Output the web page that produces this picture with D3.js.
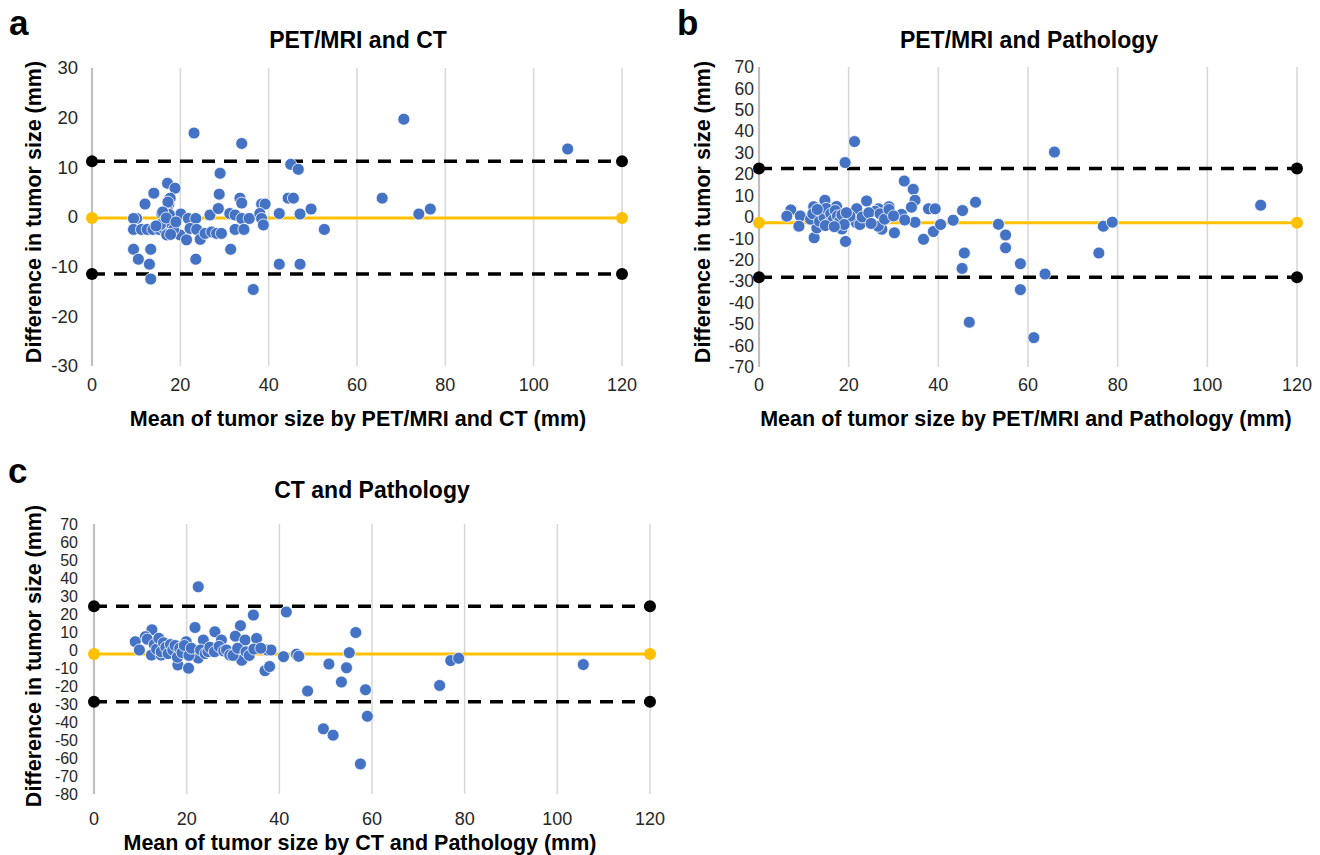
<!DOCTYPE html>
<meta charset="utf-8">
<style>
body { margin: 0; background: #fff; }
svg { font-family: "Liberation Sans", Arial, sans-serif; }
.tick-label { fill: #262626; }
.axis-title { font-size: 21.5px; font-weight: bold; fill: #000; }
.panel-title { font-size: 23px; font-weight: bold; fill: #000; }
.panel-letter { font-size: 35px; font-weight: bold; fill: #000; }
</style>
<body>
<div id="chart"></div>
<script src="https://cdn.jsdelivr.net/npm/d3@7"></script>
<script>

// x ticks shared by all three panels
var xTicks = [0, 20, 40, 60, 80, 100, 120];
var yTicksA = [-30, -20, -10, 0, 10, 20, 30];
var yTicksB = [-70, -60, -50, -40, -30, -20, -10, 0, 10, 20, 30, 40, 50, 60, 70];
var yTicksC = [-80, -70, -60, -50, -40, -30, -20, -10, 0, 10, 20, 30, 40, 50, 60, 70];

// mean difference and limits of agreement [lower, mean, upper]
var limitsA = [-11.5, -0.2, 11.2];
var limitsB = [-28.1, -2.7, 22.6];
var limitsC = [-28.7, -2.2, 24.3];

// [mean, difference] pairs
var pointsA = [
  [23.1,16.9],[33.9,14.8],[29,8.8],[17.1,6.8],[18.8,5.8],[14,4.8],[17.7,3.8],[28.8,4.6],[12,2.6],[17.4,2.6],
  [33.5,3.8],[33.9,2.8],[38.4,2.6],[39.2,2.6],[45,10.6],[46.7,9.6],[44.4,3.8],[45.6,3.8],[42.4,0.7],[47.1,0.6],
  [49.6,1.6],[52.6,-2.5],[42.4,-9.5],[47.1,-9.5],[70.6,19.7],[65.7,3.8],[74,0.6],[76.6,1.6],[107.7,13.7],
  [10.1,-0.3],[9.4,-0.3],[20.1,0.6],[15.8,0.7],[21.8,-0.3],[23.5,-0.3],[26.7,0.4],[28.6,1.7],[31.2,0.7],[32.4,0.4],
  [33.9,-0.3],[35.6,-0.3],[38,0.7],[38.4,-0.3],[38.8,-1.6],
  [9.4,-2.5],[11.2,-2.5],[12.5,-2.5],[13.8,-2.5],[15.2,-2.5],[16.4,-2.5],[17.5,-2.5],[16.9,-3.6],[19.9,-3.6],[21.4,-4.6],
  [22.2,-2.3],[23.7,-2.5],[24.5,-4.5],[25.6,-3.3],[27.1,-3],[28.2,-3.3],[29.3,-3.3],[32.4,-2.5],[34.4,-2.5],
  [9.4,-6.5],[10.5,-8.5],[13.3,-6.5],[13,-9.5],[13.3,-12.5],[23.5,-8.5],[31.4,-6.5],[36.5,-14.6],
  [17,1.5],[17.5,0.5],[16.5,-1],[18,-1.5],[17.2,3],[16,1],[18.5,-2.5],[15.5,-1.5],[17.8,-3.5],[16.8,-0.2],[14.5,-1.8],[19,-1]
];

var pointsB = [
  [21.3,35.2],[19.2,25.4],[32.4,16.8],[34.4,12.9],[34.8,7.8],[37.8,3.8],[39.3,3.8],[24,7.5],[14.7,7.8],[7.1,3.3],
  [6.2,0.4],[9.2,0.5],[8.9,-4.3],[12.2,4.8],[12.3,-9.7],[19.3,-11.4],[18.5,-5.6],[17.3,4.9],[21.8,3.9],[26.7,3.8],
  [29,4.8],[25.9,2.7],[31.8,1.2],[34,4.6],[34.8,-2.5],[30.2,-7.4],[36.7,-10.4],[38.9,-6.8],[40.5,-3.5],[32.5,-1.4],
  [27.4,-5.7],[26.6,-4.3],[28.5,-0.4],[24,-1.2],[21.7,-2.7],[20.3,0.4],[12.9,-5.1],
  [11.5,-1],[12,1.5],[13.5,-2],[14,2.5],[14.5,0],[15,4],[15.5,-3],[16,1.5],[16.5,-1.5],[17,3],[17.5,0.5],
  [18,-2],[18.5,1],[19,-3.5],[19.5,2],[14.8,-4],[16.8,-4.5],[13,3.5],[22.5,-3.5],[23,0],[24.5,2],[25,-3],
  [27,1.5],[28,-1],[29,3.5],[30,0.5],
  [43.3,-1.5],[45.4,3],[48.3,6.9],[45.8,-16.8],[45.3,-24],[46.9,-49.1],[53.4,-3.4],[55,-8.4],[55,-14.4],
  [58.3,-21.8],[58.3,-33.9],[63.8,-26.6],[61.3,-56.3],[65.9,30.3],[75.8,-16.8],[76.8,-4.3],[78.8,-2.4],[111.9,5.5]
];

var pointsC = [
  [22.5,35.1],[21.8,12.5],[34.4,19.4],[31.6,13.5],[26.1,10.1],[41.5,21.1],[12.5,11.2],[11.1,7.4],[8.9,4.6],[9.8,0],
  [23.6,5.5],[27.5,5.5],[30.5,7.7],[32.6,5.5],[35.1,6.4],[31.9,-5.7],[37.4,0],[38.2,0],[40.9,-3.7],[36.9,-11.5],
  [37.9,-9.2],[18.1,-8.3],[20.4,-10.1],[22.5,-4.5],[12.4,-2.8],[14.5,-2.8],[17.8,-1.8],[19.9,4.6],
  [11.5,6],[13,3],[13.5,0.5],[14,6.5],[14.5,-1],[15,4],[15.5,1.5],[16,-2],[16.5,3],[17,0],[17.5,2.5],
  [18,-4],[18.5,1],[19,-1.5],[19.5,2.5],[20.5,-3],[21,1],[23,0],[24,-2],[24.6,-0.9],[25,1.5],[26,-1],
  [27,2],[28,-0.5],[28.6,0],[29.3,-2.8],[30,-3],[31,1],[32.8,-1],[33.5,-3],[34.5,0.5],[36,1],
  [43.7,-2.3],[44.2,-3.5],[56.5,9.7],[55.1,-1.5],[50.7,-7.8],[54.5,-9.9],[53.4,-17.8],[46.1,-22.8],[58.6,-22.1],
  [59,-36.8],[49.5,-43.8],[51.6,-47.3],[57.5,-63.3],[74.6,-19.7],[77,-5.9],[78.7,-4.6],[105.6,-8.1]
];

var titles = ["PET/MRI and CT", "PET/MRI and Pathology", "CT and Pathology"];
var xTitles = [
  "Mean of tumor size by PET/MRI and CT (mm)",
  "Mean of tumor size by PET/MRI and Pathology (mm)",
  "Mean of tumor size by CT and Pathology (mm)"
];
var yTitle = "Difference in tumor size (mm)";
var letters = ["a", "b", "c"];

var width = 1320,
    height = 855;

var svg = d3.select("#chart").append("svg")
    .attr("width", width)
    .attr("height", height);

function drawPanel(p) {
    var x = d3.scaleLinear().domain([0, 120]).range([p.left, p.right]);
    var y = d3.scaleLinear().domain(p.yDomain).range([p.bottom, p.top]);
    var g = svg.append("g");

    // vertical gridlines
    g.selectAll("line.grid")
        .data(xTicks)
        .enter()
        .append("line")
        .attr("class", "grid")
        .attr("x1", function(d) { return x(d); })
        .attr("x2", function(d) { return x(d); })
        .attr("y1", p.top)
        .attr("y2", p.bottom)
        .style("stroke", function(d) { return d == 0 ? "#bfbfbf" : "#d9d9d9"; })
        .style("stroke-width", function(d) { return d == 0 ? 2.2 : 1.6; });

    // tick labels
    g.selectAll("text.xtick")
        .data(xTicks)
        .enter()
        .append("text")
        .attr("class", "tick-label")
        .style("font-size", "18px")
        .attr("x", function(d) { return x(d); })
        .attr("y", p.xTickY)
        .attr("text-anchor", "middle")
        .text(function(d) { return d; });

    g.selectAll("text.ytick")
        .data(p.yTicks)
        .enter()
        .append("text")
        .attr("class", "tick-label")
        .style("font-size", p.yTickSize + "px")
        .attr("x", p.yTickX)
        .attr("y", function(d) { return y(d) + p.yTickSize * 0.35; })
        .attr("text-anchor", "end")
        .text(function(d) { return d; });

    // limits of agreement (dashed) and mean (yellow)
    var lims = [
        {v: p.limits[0], color: "#000", dash: "13,9", w: 3.5},
        {v: p.limits[2], color: "#000", dash: "13,9", w: 3.5},
        {v: p.limits[1], color: "#ffc000", dash: null, w: 3}
    ];
    lims.forEach(function(l) {
        g.append("line")
            .attr("x1", x(0)).attr("x2", x(120))
            .attr("y1", y(l.v)).attr("y2", y(l.v))
            .style("stroke", l.color)
            .style("stroke-width", l.w)
            .style("stroke-dasharray", l.dash);
        g.selectAll(null)
            .data([0, 120])
            .enter()
            .append("circle")
            .attr("cx", function(d) { return x(d); })
            .attr("cy", y(l.v))
            .attr("r", 6)
            .style("fill", l.color);
    });

    // scatter points
    g.selectAll("circle.pt")
        .data(p.points)
        .enter()
        .append("circle")
        .attr("class", "pt")
        .attr("cx", function(d) { return x(d[0]); })
        .attr("cy", function(d) { return y(d[1]); })
        .attr("r", 6)
        .style("fill", "#4472c4")
        .style("stroke", "#fff")
        .style("stroke-width", 0.8);

    // titles
    g.append("text")
        .attr("class", "panel-title")
        .attr("x", p.titleX)
        .attr("y", p.titleY)
        .attr("text-anchor", "middle")
        .text(p.title);

    g.append("text")
        .attr("class", "axis-title")
        .attr("x", p.xTitleX)
        .attr("y", p.xTitleY)
        .attr("text-anchor", "middle")
        .text(p.xTitle);

    g.append("text")
        .attr("class", "axis-title")
        .attr("transform", "translate(" + p.yTitleX + "," + p.yTitleY + ") rotate(-90)")
        .attr("text-anchor", "middle")
        .text(yTitle);

    g.append("text")
        .attr("class", "panel-letter")
        .attr("x", p.letterX)
        .attr("y", p.letterY)
        .text(p.letter);
}

drawPanel({
    left: 92, right: 622, top: 68, bottom: 366,
    yDomain: [-30, 30], yTicks: yTicksA, yTickSize: 18.5, limits: limitsA, points: pointsA,
    xTickY: 391, yTickX: 78,
    title: titles[0], titleX: 358, titleY: 48,
    xTitle: xTitles[0], xTitleX: 358, xTitleY: 426,
    yTitleX: 41, yTitleY: 212,
    letter: letters[0], letterX: 9, letterY: 35
});

drawPanel({
    left: 759, right: 1297, top: 67, bottom: 367,
    yDomain: [-70, 70], yTicks: yTicksB, yTickSize: 17.5, limits: limitsB, points: pointsB,
    xTickY: 391, yTickX: 754,
    title: titles[1], titleX: 1029, titleY: 48,
    xTitle: xTitles[1], xTitleX: 1026, xTitleY: 426,
    yTitleX: 710, yTitleY: 212,
    letter: letters[1], letterX: 677, letterY: 35
});

drawPanel({
    left: 94, right: 650, top: 524, bottom: 794,
    yDomain: [-80, 70], yTicks: yTicksC, yTickSize: 16, limits: limitsC, points: pointsC,
    xTickY: 825, yTickX: 78,
    title: titles[2], titleX: 372, titleY: 498,
    xTitle: xTitles[2], xTitleX: 360, xTitleY: 850,
    yTitleX: 41, yTitleY: 656,
    letter: letters[2], letterX: 8, letterY: 483
});

</script>
</body>
